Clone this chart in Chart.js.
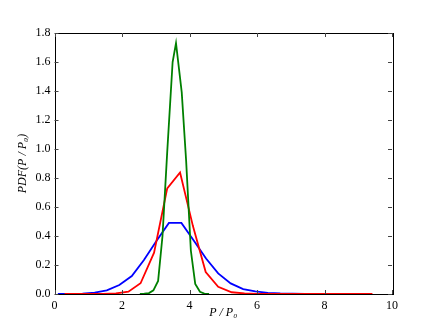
<!DOCTYPE html>
<html>
<head>
<meta charset="utf-8">
<script src="https://cdn.jsdelivr.net/npm/chart.js@4.4.1/dist/chart.umd.min.js"></script>
<style>
  html, body { margin: 0; padding: 0; background: #fff; }
  #wrap { width: 436px; height: 327px; }
</style>
</head>
<body>
<div id="wrap"><canvas id="pdfChart" width="436" height="327"></canvas></div>
<script>
// values
var blueX = [0.10, 0.47, 0.83, 1.19, 1.55, 1.92, 2.29, 2.65, 3.02, 3.39, 3.76, 4.12, 4.49, 4.85, 5.22, 5.59, 5.95, 6.32, 6.69, 7.05, 7.42, 7.78, 8.15, 8.52, 8.88];
var blueY = [0.000, 0.001, 0.003, 0.010, 0.025, 0.062, 0.124, 0.234, 0.365, 0.490, 0.490, 0.370, 0.245, 0.142, 0.073, 0.034, 0.018, 0.008, 0.004, 0.002, 0.001, 0.0005, 0.0002, 0.0001, 0.000];

var redX = [0.30, 0.68, 1.06, 1.44, 1.82, 2.19, 2.55, 2.95, 3.34, 3.72, 4.10, 4.48, 4.85, 5.25, 5.63, 6.01, 6.39, 6.77, 7.15, 7.53, 7.91, 8.29, 8.67, 9.05, 9.42];
var redY = [0.000, 0.000, 0.000, 0.001, 0.004, 0.016, 0.074, 0.285, 0.728, 0.838, 0.470, 0.152, 0.050, 0.012, 0.004, 0.001, 0.000, 0.000, 0.000, 0.000, 0.000, 0.000, 0.000, 0.000, 0.000];

var greenX = [2.53, 2.66, 2.80, 2.93, 3.07, 3.20, 3.34, 3.50, 3.60, 3.77, 3.90, 4.04, 4.17, 4.31, 4.44, 4.58];
var greenY = [0.000, 0.002, 0.006, 0.025, 0.090, 0.400, 0.980, 1.600, 1.730, 1.390, 0.920, 0.300, 0.070, 0.015, 0.003, 0.000];

var xTicks = [0, 2, 4, 6, 8, 10];
var yTicks = [0, 0.2, 0.4, 0.6, 0.8, 1.0, 1.2, 1.4, 1.6, 1.8];

function toPoints(xs, ys) {
    return xs.map((x, i) => ({ x: x, y: ys[i] }));
}

var serif = "'Liberation Serif', 'DejaVu Serif', serif";

// matplotlib style frame: four spines, ticks pointing inward
var frameTicks = {
    id: 'frameTicks',
    afterDraw(chart) {
        var ctx = chart.ctx, a = chart.chartArea;
        var xs = chart.scales.x, ys = chart.scales.y;
        ctx.save();
        ctx.strokeStyle = '#000';
        ctx.lineWidth = 1;
        ctx.strokeRect(Math.round(a.left) + 0.5, Math.round(a.top) + 0.5, Math.round(a.right - a.left), Math.round(a.bottom - a.top));
        ctx.strokeStyle = '#444';
        ctx.beginPath();
        xTicks.forEach(v => {
            var px = Math.round(xs.getPixelForValue(v)) + 0.5;
            ctx.moveTo(px, a.bottom); ctx.lineTo(px, a.bottom - 4);
            ctx.moveTo(px, a.top); ctx.lineTo(px, a.top + 4);
        });
        yTicks.forEach(v => {
            var py = Math.round(ys.getPixelForValue(v)) + 0.5;
            ctx.moveTo(a.left, py); ctx.lineTo(a.left + 4, py);
            ctx.moveTo(a.right, py); ctx.lineTo(a.right - 4, py);
        });
        ctx.stroke();
        ctx.restore();
    }
};

var chart = new Chart(document.getElementById('pdfChart').getContext('2d'), {
    type: 'scatter',
    data: {
        datasets: [
            { label: 'green', data: toPoints(greenX, greenY), borderColor: '#008000', showLine: true, pointRadius: 0, borderWidth: 1.8, tension: 0 },
            { label: 'red', data: toPoints(redX, redY), borderColor: '#ff0000', showLine: true, pointRadius: 0, borderWidth: 1.8, tension: 0 },
            { label: 'blue', data: toPoints(blueX, blueY), borderColor: '#0000ff', showLine: true, pointRadius: 0, borderWidth: 1.8, tension: 0 }
        ]
    },
    options: {
        responsive: false,
        animation: false,
        layout: { padding: { left: 0, top: 33, right: 44, bottom: 0 } },
        plugins: { legend: { display: false }, tooltip: { enabled: false } },
        scales: {
            x: {
                type: 'linear', min: 0, max: 10,
                afterFit: s => { s.height = 33; },
                afterBuildTicks: s => { s.ticks = xTicks.map(v => ({ value: v })); },
                grid: { display: false, drawTicks: false },
                border: { display: false },
                ticks: { color: '#000', padding: 5, maxRotation: 0, font: { family: serif, size: 12 }, callback: v => String(v) },
                title: { display: true, text: 'P / P₀', color: '#000', padding: { top: 0, bottom: 7 }, font: { family: serif, size: 12, style: 'italic' } }
            },
            y: {
                type: 'linear', min: 0, max: 1.8,
                afterFit: s => { s.width = 54.5; },
                afterBuildTicks: s => { s.ticks = yTicks.map(v => ({ value: v })); },
                grid: { display: false, drawTicks: false },
                border: { display: false },
                ticks: { color: '#000', padding: 4, font: { family: serif, size: 12 }, callback: v => v.toFixed(1) },
                title: { display: true, text: 'PDF(P / P₀)', color: '#000', padding: { top: 16, bottom: 0 }, font: { family: serif, size: 12, style: 'italic' } }
            }
        }
    },
    plugins: [frameTicks]
});
</script>
</body>
</html>
